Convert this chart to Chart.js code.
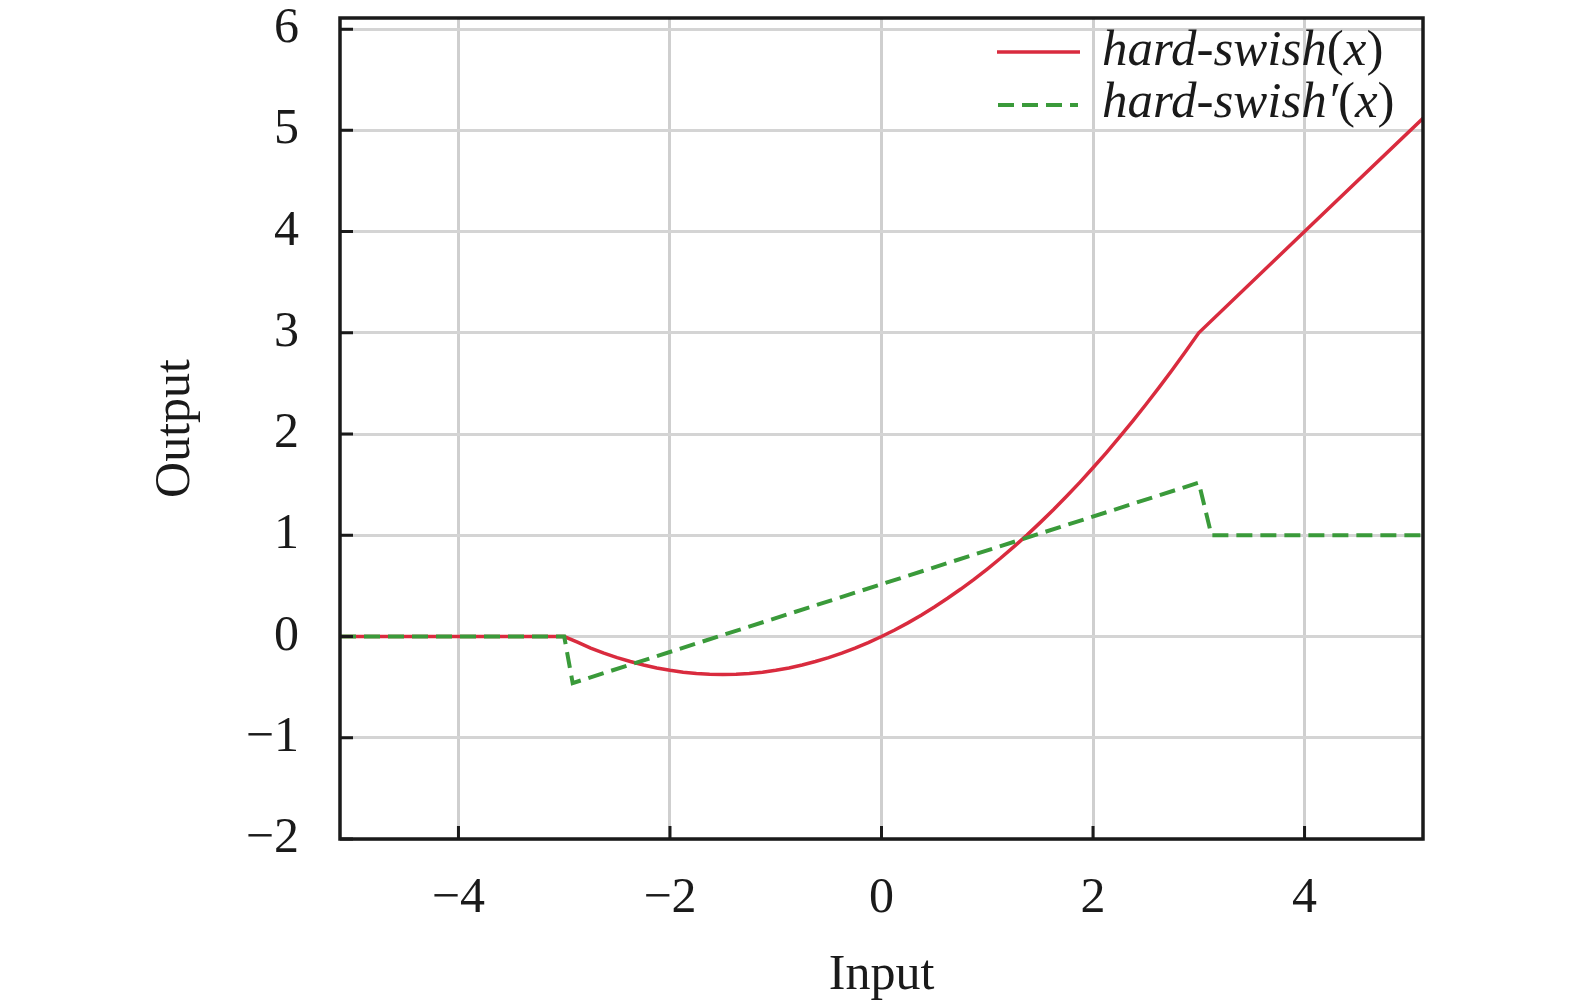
<!DOCTYPE html>
<html>
<head>
<meta charset="utf-8">
<script src="https://cdn.jsdelivr.net/npm/chart.js@4"></script>
<style>
  html, body { margin: 0; padding: 0; background: #ffffff; }
  #wrap { width: 1575px; height: 1007px; }
</style>
</head>
<body>
<div id="wrap"><canvas id="c" width="1575" height="1007"></canvas></div>
<script>
// ---- data ----
const seriesNames = ['hard-swish(x)', "hard-swish\u2032(x)"];
const swishX = [-5.12, -3, -2.875, -2.75, -2.625, -2.5, -2.375, -2.25, -2.125, -2, -1.875, -1.75, -1.625, -1.5, -1.375, -1.25, -1.125, -1, -0.875, -0.75, -0.625, -0.5, -0.375, -0.25, -0.125, 0, 0.125, 0.25, 0.375, 0.5, 0.625, 0.75, 0.875, 1, 1.125, 1.25, 1.375, 1.5, 1.625, 1.75, 1.875, 2, 2.125, 2.25, 2.375, 2.5, 2.625, 2.75, 2.875, 3, 4, 5.12];
const swishY = [0, 0, -0.055, -0.115, -0.164, -0.208, -0.247, -0.281, -0.310, -0.333, -0.352, -0.365, -0.372, -0.375, -0.372, -0.365, -0.352, -0.333, -0.310, -0.281, -0.247, -0.208, -0.164, -0.115, -0.060, 0, 0.065, 0.135, 0.211, 0.292, 0.378, 0.469, 0.565, 0.667, 0.773, 0.885, 1.002, 1.125, 1.252, 1.385, 1.523, 1.667, 1.815, 1.969, 2.128, 2.292, 2.461, 2.635, 2.815, 3, 4, 5.12];
const derivX = [-5.12, -3.0, -2.92, 3.0, 3.12, 5.12];
const derivY = [0, 0, -0.46, 1.52, 1.0, 1.0];
const xTicks = [-4, -2, 0, 2, 4];
const yTicks = [-2, -1, 0, 1, 2, 3, 4, 5, 6];
const xLabel = 'Input';
const yLabel = 'Output';

const RED = '#d92b3e';
const GREEN = '#3a9a3a';
const FONT = "'Liberation Serif', 'Times New Roman', serif";

const toPts = (xs, ys) => xs.map((x, i) => ({ x: x, y: ys[i] }));
const fmt = v => String(v).replace('-', '\u2212');

const framePlugin = {
  id: 'frame',
  afterDraw(chart) {
    const { ctx, chartArea: a, scales } = chart;
    ctx.save();
    ctx.strokeStyle = '#1a1a1a';
    ctx.lineWidth = 3;
    ctx.beginPath();
    xTicks.forEach(v => {
      const px = scales.x.getPixelForValue(v);
      ctx.moveTo(px, a.bottom);
      ctx.lineTo(px, a.bottom - 13);
    });
    yTicks.forEach(v => {
      const py = scales.y.getPixelForValue(v);
      ctx.moveTo(a.left, py);
      ctx.lineTo(a.left + 13, py);
    });
    ctx.stroke();
    ctx.lineWidth = 3.5;
    ctx.strokeRect(a.left, a.top, a.right - a.left, a.bottom - a.top);
    ctx.restore();
  }
};

const legendPlugin = {
  id: 'innerLegend',
  afterDraw(chart) {
    const { ctx } = chart;
    const rows = [
      { y: 52, base: 65, x0: 997, x1: 1080, ds: chart.data.datasets[0] },
      { y: 105, base: 117, x0: 998, x1: 1078, ds: chart.data.datasets[1] }
    ];
    ctx.save();
    rows.forEach(r => {
      ctx.beginPath();
      ctx.strokeStyle = r.ds.borderColor;
      ctx.lineWidth = r.ds.borderWidth;
      ctx.setLineDash(r.ds.borderDash || []);
      ctx.moveTo(r.x0, r.y);
      ctx.lineTo(r.x1, r.y);
      ctx.stroke();
      ctx.setLineDash([]);
      const parts = r.ds.label.split(/([()])/).filter(s => s.length);
      let x = 1102;
      ctx.fillStyle = '#1a1a1a';
      ctx.textBaseline = 'alphabetic';
      ctx.textAlign = 'left';
      parts.forEach(p => {
        ctx.font = (p === '(' || p === ')') ? `51px ${FONT}` : `italic 51px ${FONT}`;
        ctx.fillText(p, x, r.base);
        x += ctx.measureText(p).width;
      });
    });
    ctx.restore();
  }
};

new Chart(document.getElementById('c'), {
  type: 'line',
  data: {
    datasets: [
      {
        label: seriesNames[0],
        data: toPts(swishX, swishY),
        borderColor: RED,
        borderWidth: 3.5,
        pointRadius: 0,
        tension: 0,
        fill: false,
        order: 1
      },
      {
        label: seriesNames[1],
        data: toPts(derivX, derivY),
        borderColor: GREEN,
        borderWidth: 4,
        borderDash: [16, 8],
        pointRadius: 0,
        tension: 0,
        fill: false,
        order: 0
      }
    ]
  },
  options: {
    responsive: false,
    animation: false,
    devicePixelRatio: 1,
    layout: { padding: { left: 0, right: 152, top: 18, bottom: 0 } },
    plugins: { legend: { display: false }, tooltip: { enabled: false } },
    scales: {
      x: {
        type: 'linear',
        min: -5.12,
        max: 5.12,
        afterBuildTicks: s => { s.ticks = xTicks.map(v => ({ value: v })); },
        afterFit: s => { s.height = 168; s.paddingLeft = 0; s.paddingRight = 0; },
        grid: { color: '#cfcfcf', lineWidth: 3, drawTicks: false },
        border: { display: false },
        ticks: {
          font: { family: FONT, size: 50 },
          color: '#1a1a1a',
          padding: 30,
          maxRotation: 0,
          callback: v => fmt(v)
        },
        title: {
          display: true,
          text: xLabel,
          font: { family: FONT, size: 50 },
          color: '#1a1a1a',
          padding: { top: 0, bottom: 1 }
        }
      },
      y: {
        type: 'linear',
        min: -2,
        max: 6.11,
        afterBuildTicks: s => { s.ticks = yTicks.map(v => ({ value: v })); },
        afterFit: s => { s.width = 340; s.paddingTop = 0; s.paddingBottom = 0; },
        grid: { color: '#d4d4d4', lineWidth: 3, drawTicks: false },
        border: { display: false },
        ticks: {
          font: { family: FONT, size: 50 },
          color: '#1a1a1a',
          padding: 41,
          callback: v => fmt(v)
        },
        title: {
          display: true,
          text: yLabel,
          font: { family: FONT, size: 50 },
          color: '#1a1a1a',
          padding: { top: 146, bottom: 0 }
        }
      }
    }
  },
  plugins: [framePlugin, legendPlugin]
});
</script>
</body>
</html>
